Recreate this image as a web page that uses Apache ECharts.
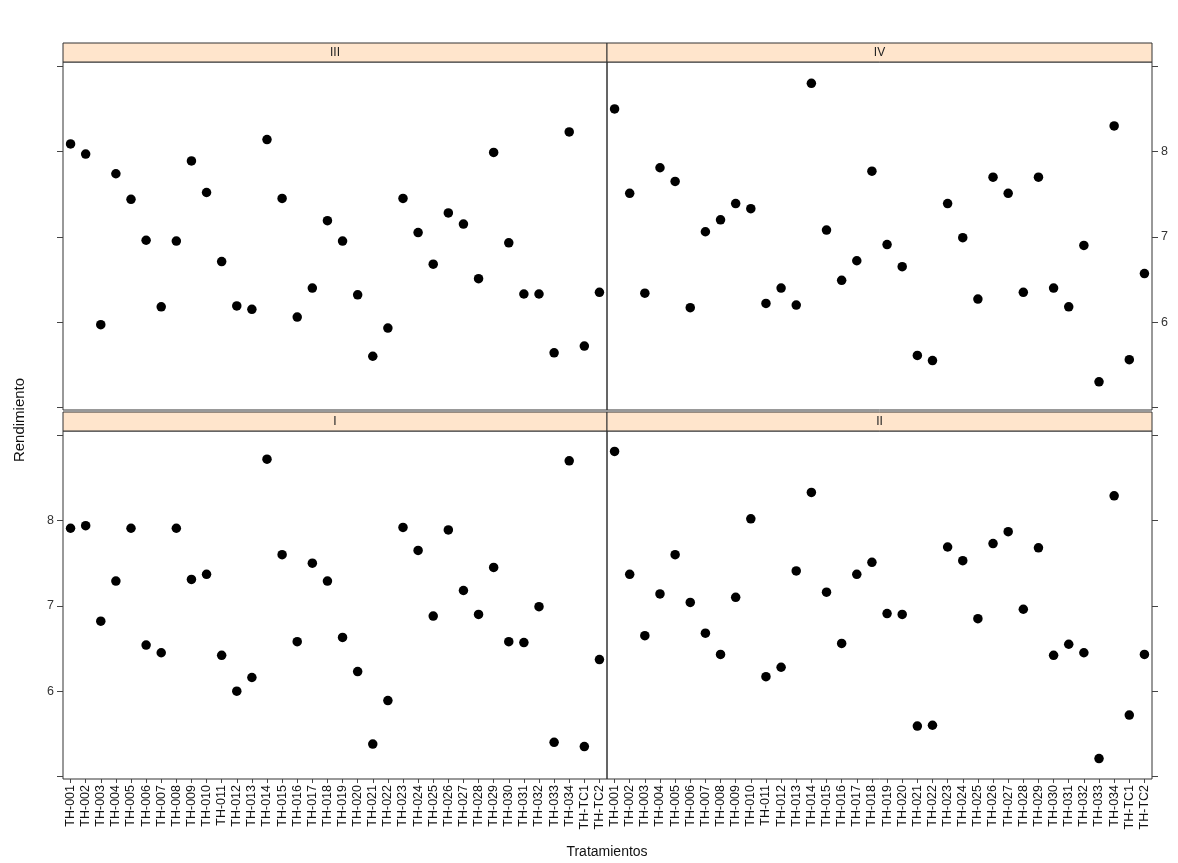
<!DOCTYPE html>
<html>
<head>
<meta charset="utf-8">
<script src="https://cdn.jsdelivr.net/npm/echarts@6/dist/echarts.min.js"></script>
<style>
html,body{margin:0;padding:0;background:#fff;}
#chart{width:1178px;height:863px;}
</style>
</head>
<body>
<div id="chart"></div>
<script>
// Categories (treatments)
const categories = ['TH-001','TH-002','TH-003','TH-004','TH-005','TH-006','TH-007','TH-008','TH-009','TH-010',
  'TH-011','TH-012','TH-013','TH-014','TH-015','TH-016','TH-017','TH-018','TH-019','TH-020',
  'TH-021','TH-022','TH-023','TH-024','TH-025','TH-026','TH-027','TH-028','TH-029','TH-030',
  'TH-031','TH-032','TH-033','TH-034','TH-TC1','TH-TC2'];

// Rendimiento per block (panel)
const blockIII = [8.09,7.97,5.97,7.74,7.44,6.96,6.18,6.95,7.89,7.52,
  6.71,6.19,6.15,8.14,7.45,6.06,6.40,7.19,6.95,6.32,
  5.60,5.93,7.45,7.05,6.68,7.28,7.15,6.51,7.99,6.93,
  6.33,6.33,5.64,8.23,5.72,6.35];
const blockIV = [8.50,7.51,6.34,7.81,7.65,6.17,7.06,7.20,7.39,7.33,
  6.22,6.40,6.20,8.80,7.08,6.49,6.72,7.77,6.91,6.65,
  5.61,5.55,7.39,6.99,6.27,7.70,7.51,6.35,7.70,6.40,
  6.18,6.90,5.30,8.30,5.56,6.57];
const blockI = [7.91,7.94,6.82,7.29,7.91,6.54,6.45,7.91,7.31,7.37,
  6.42,6.00,6.16,8.72,7.60,6.58,7.50,7.29,6.63,6.23,
  5.38,5.89,7.92,7.65,6.88,7.89,7.18,6.90,7.45,6.58,
  6.57,6.99,5.40,8.70,5.35,6.37];
const blockII = [8.81,7.37,6.65,7.14,7.60,7.04,6.68,6.43,7.10,8.02,
  6.17,6.28,7.41,8.33,7.16,6.56,7.37,7.51,6.91,6.90,
  5.59,5.60,7.69,7.53,6.85,7.73,7.87,6.96,7.68,6.42,
  6.55,6.45,5.21,8.29,5.72,6.43];

// Axis settings
const yMin = 4.97, yMax = 9.05;
const yTicks = [5,6,7,8,9];
const yTickLabels = [6,7,8];
const stripNames = ['III','IV','I','II'];

const panels = [
  {name:stripNames[0], data:blockIII, left:63, top:62, width:544, height:348, ySide:'left', yLabels:false, xLabels:false},
  {name:stripNames[1], data:blockIV, left:607, top:62, width:545, height:348, ySide:'right', yLabels:true, xLabels:false},
  {name:stripNames[2], data:blockI, left:63, top:431, width:544, height:348, ySide:'left', yLabels:true, xLabels:true},
  {name:stripNames[3], data:blockII, left:607, top:431, width:545, height:348, ySide:'right', yLabels:false, xLabels:true}
];

const chart = echarts.init(document.getElementById('chart'), null, {renderer:'canvas'});
const font = 'Liberation Sans, Arial, sans-serif';
const grid=[], xAxis=[], yAxis=[], series=[], graphic=[];
panels.forEach((p,i)=>{
  grid.push({left:p.left, top:p.top, width:p.width, height:p.height, show:true,
    borderColor:'#333', borderWidth:1, backgroundColor:'transparent', containLabel:false});
  xAxis.push({type:'category', gridIndex:i, data:categories, boundaryGap:true,
    axisLine:{show:false},
    axisTick:{show:p.xLabels, interval:0, alignWithLabel:true, length:4, lineStyle:{color:'#444'}},
    axisLabel:{show:p.xLabels, interval:0, rotate:90, margin:6, fontSize:12.5, color:'#111', fontFamily:font},
    splitLine:{show:false}});
  yAxis.push({type:'value', gridIndex:i, min:yMin, max:yMax, position:p.ySide,
    axisLine:{show:false},
    axisTick:{show:true, customValues:yTicks, length:6, lineStyle:{color:'#444'}},
    axisLabel:{show:p.yLabels, customValues:yTickLabels, margin:9, fontSize:12.5, color:'#333', fontFamily:font},
    splitLine:{show:false}});
  series.push({type:'scatter', xAxisIndex:i, yAxisIndex:i, data:p.data,
    symbol:'circle', symbolSize:9.5, itemStyle:{color:'#000', opacity:1}, z:5});
  const stripTop = p.top - 19;
  graphic.push({type:'rect', shape:{x:p.left, y:stripTop, width:p.width, height:19},
    style:{fill:'#ffe5cc', stroke:'#333', lineWidth:1}, z:10});
  graphic.push({type:'text', x:p.left + p.width/2, y:stripTop + 10,
    style:{text:p.name, font:'12px '+font, fill:'#222', textAlign:'center', textVerticalAlign:'middle'}, z:11});
});
graphic.push({type:'text', x:20, y:420, rotation:Math.PI/2,
  style:{text:'Rendimiento', font:'15px '+font, fill:'#111', textAlign:'center', textVerticalAlign:'middle'}});
graphic.push({type:'text', x:607, y:852,
  style:{text:'Tratamientos', font:'14px '+font, fill:'#111', textAlign:'center', textVerticalAlign:'middle'}});

chart.setOption({animation:false, backgroundColor:'#fff', grid, xAxis, yAxis, series, graphic});
</script>
</body>
</html>
